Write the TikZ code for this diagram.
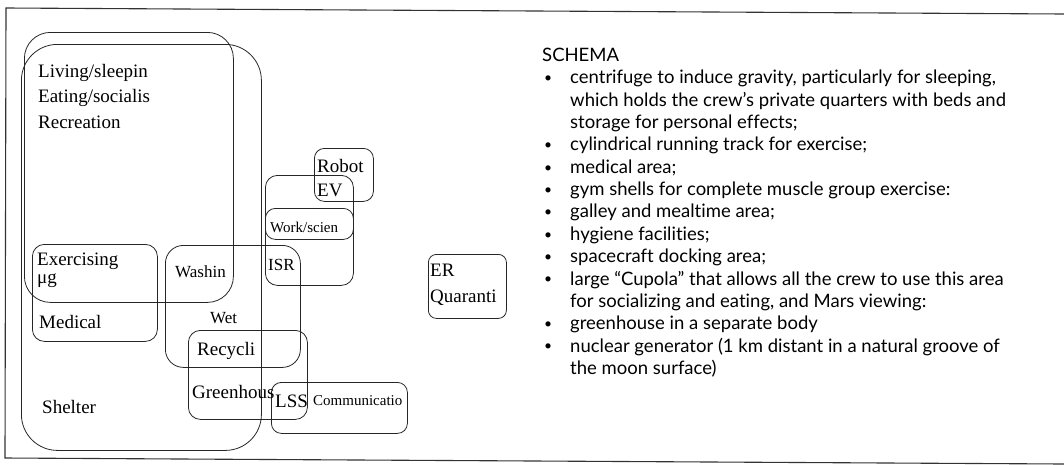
\documentclass[tikz,border=0pt]{standalone}
\usepackage{graphicx}
\usepackage{fontspec}
\setmainfont{Liberation Serif}
\newfontfamily\schemafont[Ligatures=NoCommon]{Lato}
\newcommand{\blt}{\makebox[28pt][l]{\hspace{2pt}\raisebox{1.2pt}{\scalebox{0.75}{\textbullet}}}}
\tikzset{
  box/.style={draw=black!85, line width=0.8pt, inner sep=0pt, anchor=north west},
  lbl/.style={anchor=base west, inner sep=0pt, font=\fontsize{19}{19}\selectfont},
  smalllbl/.style={lbl, font=\fontsize{15}{15}\selectfont},
  frame/.style={draw=black!80, line width=1.1pt},
}
\begin{document}
\begin{tikzpicture}[x=1pt,y=-1pt]
\useasboundingbox (0,0) rectangle (1064,464);
% outer frame
\draw[frame] (1064,14) -- (6,8) -- (5,458) -- (1064,464);

% boxes
\node[box, rounded corners=26pt, minimum width=209pt, minimum height=270pt] (living) at (24,32) {};
\node[box, rounded corners=36pt, minimum width=240pt, minimum height=406pt] (shelter) at (21,44) {};
\node[box, rounded corners=12pt, minimum width=125pt, minimum height=97pt] (exer) at (32,244) {};
\node[box, rounded corners=18pt, minimum width=135pt, minimum height=122pt] (wet) at (165,245) {};
\node[box, rounded corners=12pt, minimum width=119pt, minimum height=89pt] (recy) at (188,330) {};
\node[box, rounded corners=10pt, minimum width=136pt, minimum height=51pt] (comm) at (271,382) {};
\node[box, rounded corners=12pt, minimum width=88pt, minimum height=110pt] (isr) at (265,175) {};
\node[box, rounded corners=10pt, minimum width=88pt, minimum height=31pt] (work) at (265,208) {};
\node[box, rounded corners=10pt, minimum width=59pt, minimum height=53pt] (robot) at (314,148) {};
\node[box, rounded corners=8pt, minimum width=78pt, minimum height=64pt] (er) at (428,254) {};

% labels
\node[lbl] (tliving) at (38,77) {Living/sleepin};
\node[lbl] (teating) at (38,102) {Eating/socialis};
\node[lbl] (trec) at (38,128) {Recreation};
\node[lbl] (texer) at (37,265) {Exercising};
\node[lbl] (tmug) at (37,283) {μg};
\node[lbl] (tmed) at (39,328) {Medical};
\node[lbl] (tshel) at (42,413) {Shelter};
\node[lbl, font=\fontsize{17}{17}\selectfont] (twash) at (175,277) {Washin};
\node[lbl, font=\fontsize{17}{17}\selectfont] (twet) at (210,323) {Wet};
\node[lbl] (trecy) at (197,355) {Recycli};
\node[lbl] (tgreen) at (192,398) {Greenhous};
\node[lbl] (tlss) at (275,407) {LSS};
\node[smalllbl] (tcomm) at (313,405) {Communicatio};
\node[lbl, font=\fontsize{17}{17}\selectfont] (tisr) at (268,270) {ISR};
\node[smalllbl] (twork) at (270,232) {Work/scien};
\node[lbl] (trobot) at (317,172) {Robot};
\node[lbl] (tev) at (317,196) {EV};
\node[lbl] (ter) at (430,276) {ER};
\node[lbl] (tquar) at (430,302) {Quaranti};

% schema text
\node[anchor=base west, inner sep=0pt, font=\schemafont\fontsize{18.5}{22.35}\selectfont] (schema) at (542,61.5) {%
\renewcommand{\arraystretch}{1}%
\begin{tabular}[t]{@{}l@{}l@{}}
\multicolumn{2}{@{}l@{}}{SCHEMA}\\
\blt & centrifuge to induce gravity, particularly for sleeping,\\
 & which holds the crew’s private quarters with beds and\\
 & storage for personal effects;\\
\blt & cylindrical running track for exercise;\\
\blt & medical area;\\
\blt & gym shells for complete muscle group exercise:\\
\blt & galley and mealtime area;\\
\blt & hygiene facilities;\\
\blt & spacecraft docking area;\\
\blt & large “Cupola” that allows all the crew to use this area\\
 & for socializing and eating, and Mars viewing:\\
\blt & greenhouse in a separate body\\
\blt & nuclear generator (1 km distant in a natural groove of\\
 & the moon surface)
\end{tabular}};
\end{tikzpicture}
\end{document}
